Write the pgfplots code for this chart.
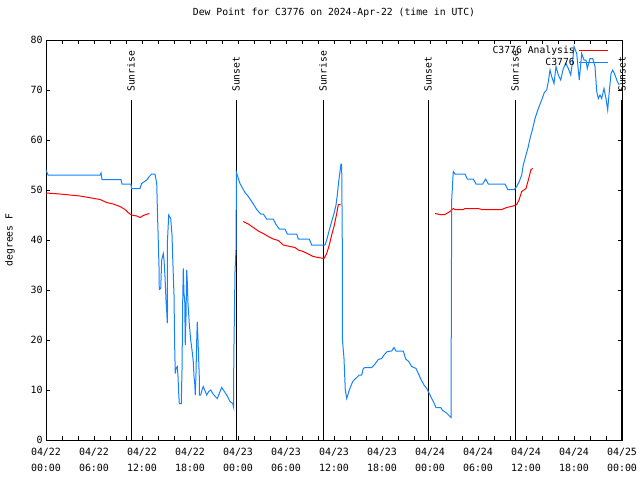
\documentclass[border=0pt]{standalone}
\usepackage{pgfplots}
\pgfplotsset{compat=1.18}
\usepackage{fontspec}
\setmainfont{DejaVu Sans Mono}
\definecolor{obsblue}{RGB}{20,130,255}
\begin{document}
\fontsize{9.8}{11}\selectfont
\begin{tikzpicture}
\begin{axis}[
    name=ax,
    at={(0,0)}, anchor=south west,
    scale only axis,
    width=576bp, height=400bp,
    xmin=0, xmax=72, ymin=0, ymax=80,
    clip=false,
    axis line style={black, line width=1bp},
    tick style={black, line width=0.8bp},
    tick align=inside,
    major tick length=4bp,
    minor tick length=4bp,
    xtick={0,6,...,72},
    minor xtick={0,2,...,72},
    xticklabels={{04/22\\00:00},{04/22\\06:00},{04/22\\12:00},{04/22\\18:00},
                 {04/23\\00:00},{04/23\\06:00},{04/23\\12:00},{04/23\\18:00},
                 {04/24\\00:00},{04/24\\06:00},{04/24\\12:00},{04/24\\18:00},
                 {04/25\\00:00}},
    xticklabel style={font=\fontsize{10}{16}\selectfont, align=center, yshift=-5bp},
    ytick={0,10,...,80},
    /pgf/number format/assume math mode=true,
    yticklabel style={font=\fontsize{10}{11}\selectfont},
    ylabel={degrees F},
    ylabel style={at={(axis description cs:-0.0625,0.5)}, anchor=center, rotate=0},
    title={Dew Point for C3776 on 2024-Apr-22 (time in UTC)},
    title style={at={(axis description cs:0.5,1)}, anchor=center, yshift=21bp},
    legend plot pos=right,
    legend cell align=right,
    legend image code/.code={\draw[#1] (0bp,0bp) -- (29bp,0bp);},
    legend style={at={(axis description cs:1,1)}, anchor=north east,
        xshift=-10bp, yshift=-2bp, draw=none, fill=none,
        font=\fontsize{9.8}{11}\selectfont, row sep=-0.5bp,
        /tikz/every odd column/.style={column sep=2bp}},
]
% sunrise / sunset markers
\addplot[black, line width=1bp, forget plot] coordinates {(10.625,0) (10.625,68)};
\addplot[black, line width=1bp, forget plot] coordinates {(23.75,0) (23.75,68)};
\addplot[black, line width=1bp, forget plot] coordinates {(34.625,0) (34.625,68)};
\addplot[black, line width=1bp, forget plot] coordinates {(47.75,0) (47.75,68)};
\addplot[black, line width=1bp, forget plot] coordinates {(58.625,0) (58.625,68)};
\addplot[black, line width=1.4bp, forget plot] coordinates {(72,0) (72,68)};
\node[rotate=90, anchor=west, inner sep=0pt] at (axis cs:10.625,69.6) {Sunrise};
\node[rotate=90, anchor=west, inner sep=0pt] at (axis cs:23.75,69.6) {Sunset};
\node[rotate=90, anchor=west, inner sep=0pt] at (axis cs:34.625,69.6) {Sunrise};
\node[rotate=90, anchor=west, inner sep=0pt] at (axis cs:47.75,69.6) {Sunset};
\node[rotate=90, anchor=west, inner sep=0pt] at (axis cs:58.625,69.6) {Sunrise};
\node[rotate=90, anchor=west, inner sep=0pt] at (axis cs:72,69.6) {Sunset};

% analysis
\addplot[red, line width=1bp, unbounded coords=jump] coordinates {
(0,49.4) (1.75,49.2) (4.25,48.8) (6.75,48.1) (7.59,47.5) (8.41,47.2) (9.25,46.7)
(9.875,46.1) (10.41,45.3) (10.71,45) (11.34,44.8) (11.75,44.5) (12.16,44.9) (12.91,45.3)
(18,nan)
(24.66,43.7) (25.29,43.2) (25.91,42.5) (26.54,41.8) (27.16,41.3) (27.79,40.7)
(28.41,40.2) (29.04,39.9) (29.66,39) (30.5,38.7) (31.125,38.5) (31.54,38)
(32.16,37.7) (32.79,37.2) (33.41,36.7) (34.04,36.5) (34.75,36.3) (35.09,37.3)
(35.41,39) (35.71,41) (36.0,42.7) (36.34,45.3) (36.54,47.1) (36.84,47.1)
(42,nan)
(48.625,45.3) (49.25,45.1) (49.875,45.1) (50.5,45.7) (50.91,46.3) (51.125,46.1)
(52.16,46.1) (52.375,46.3) (54.04,46.3) (54.46,46.1) (56.96,46.1) (57.59,46.5)
(58.41,46.8) (58.84,47.1) (59.125,48) (59.46,49.7) (60.0,50.3) (60.29,52)
(60.625,54.1) (60.84,54.3)
};
\addlegendentry{C3776 Analysis}

% observations
\addplot[obsblue, line width=1bp] coordinates {
(0,54) (0.25,53) (6.75,53) (6.875,53.4) (7.0,52.1) (9.375,52.1) (9.5,51.2)
(10.625,51.2) (10.69,50.3) (11.75,50.3) (11.96,51.3) (12.59,52) (12.91,52.7)
(13.21,53.2) (13.625,53.2) (13.84,51.3) (13.96,44) (14.125,34.7) (14.16,30.1)
(14.34,30.3) (14.46,36) (14.66,37.3) (14.75,36) (14.875,32.7) (15.0,28)
(15.09,25.7) (15.16,23.4) (15.18,39.7) (15.34,45) (15.59,44.3) (15.75,41)
(15.84,36.4) (16.0,29) (16.09,18.3) (16.16,13.3) (16.25,14.3) (16.41,14.7)
(16.5,12.7) (16.59,9.3) (16.66,7.3) (16.91,7.3) (17.0,14) (17.09,27.7)
(17.16,34.3) (17.25,29.3) (17.34,28) (17.41,19) (17.5,24.7) (17.59,34)
(17.66,31.7) (17.75,27.3) (17.91,23.3) (18.09,20) (18.25,18) (18.41,15.7)
(18.5,12.7) (18.59,11.3) (18.66,9) (18.75,13.3) (18.84,20) (18.91,23.6)
(19.0,20) (19.16,12.7) (19.18,9) (19.34,9) (19.5,10) (19.66,10.7) (19.84,10)
(20.09,9) (20.34,9.7) (20.59,10) (20.84,9.3) (21.16,8.7) (21.41,8.3)
(21.66,9.3) (21.96,10.5) (22.59,9) (23.0,7.7) (23.34,7.3) (23.46,6.5)
(23.47,15.7) (23.625,33.7) (23.75,38) (23.81,53.5) (24.04,52.3) (24.25,51.3)
(24.59,50.3) (24.875,49.5) (25.29,48.7) (25.71,47.7) (26.0,47) (26.34,46.1)
(26.84,45.2) (27.16,45.2) (27.59,44.2) (28.41,44.2) (28.71,43.2) (29.16,42.2)
(29.875,42.2) (30.16,41.2) (31.34,41.2) (31.54,40.2) (32.91,40.2) (33.21,39)
(34.875,39) (35.09,40) (35.41,42) (35.71,43.7) (36.0,45.3) (36.25,47)
(36.41,49) (36.59,51.7) (36.75,53.7) (36.875,55.2) (36.96,55.2) (37.04,38.5)
(37.06,20) (37.25,16.3) (37.41,10) (37.59,8.3) (37.91,10) (38.34,11.7)
(38.71,12.3) (39.16,13) (39.46,13) (39.66,14.3) (39.875,14.5) (40.71,14.5)
(41.125,15.2) (41.54,16.1) (41.96,16.3) (42.25,17) (42.66,17.7) (43.21,17.8)
(43.5,18.5) (43.75,17.8) (44.66,17.8) (44.96,16.2) (45.34,15.7) (45.71,14.7)
(46.25,14.3) (46.54,13.3) (46.875,12.1) (47.25,11) (47.59,10.3) (48.0,9)
(48.41,7.7) (48.75,6.5) (49.34,6.5) (49.59,5.9) (50.0,5.5) (50.625,4.5)
(50.71,48) (50.91,53.7) (51.125,53.2) (52.375,53.2) (52.66,52.2) (53.41,52.2)
(53.75,51.2) (54.59,51.2) (54.96,52.2) (55.29,51.2) (57.375,51.2) (57.71,50.1)
(58.54,50.1) (58.84,50.7) (59.16,51.7) (59.46,53) (59.66,55) (60.0,57)
(60.29,58.7) (60.5,60.3) (60.84,62.3) (61.125,64.3) (61.54,66.3) (61.96,68)
(62.29,69.5) (62.59,70) (62.79,71.7) (63.0,74) (63.21,72.7) (63.5,71.3)
(63.75,74.7) (64.04,73) (64.34,72) (64.66,74.3) (65.0,75.3) (65.29,74.3)
(65.59,73) (65.84,76) (66.0,78.7) (66.34,77.3) (66.66,72) (66.96,77.3)
(67.25,76) (67.5,76) (67.66,74.3) (68.0,76.3) (68.34,76.3) (68.625,74.7)
(68.84,69.7) (69.04,68.3) (69.25,69) (69.46,68.3) (69.75,70.3) (70.0,68.3)
(70.21,66) (70.41,69.7) (70.625,73.3) (70.84,74) (71.125,73) (71.41,71.7)
(71.66,71)
};
\addlegendentry{C3776}
\end{axis}
\pgfresetboundingbox
\path[use as bounding box] (-46bp,-40bp) rectangle (594bp,440bp);
\end{tikzpicture}
\end{document}
